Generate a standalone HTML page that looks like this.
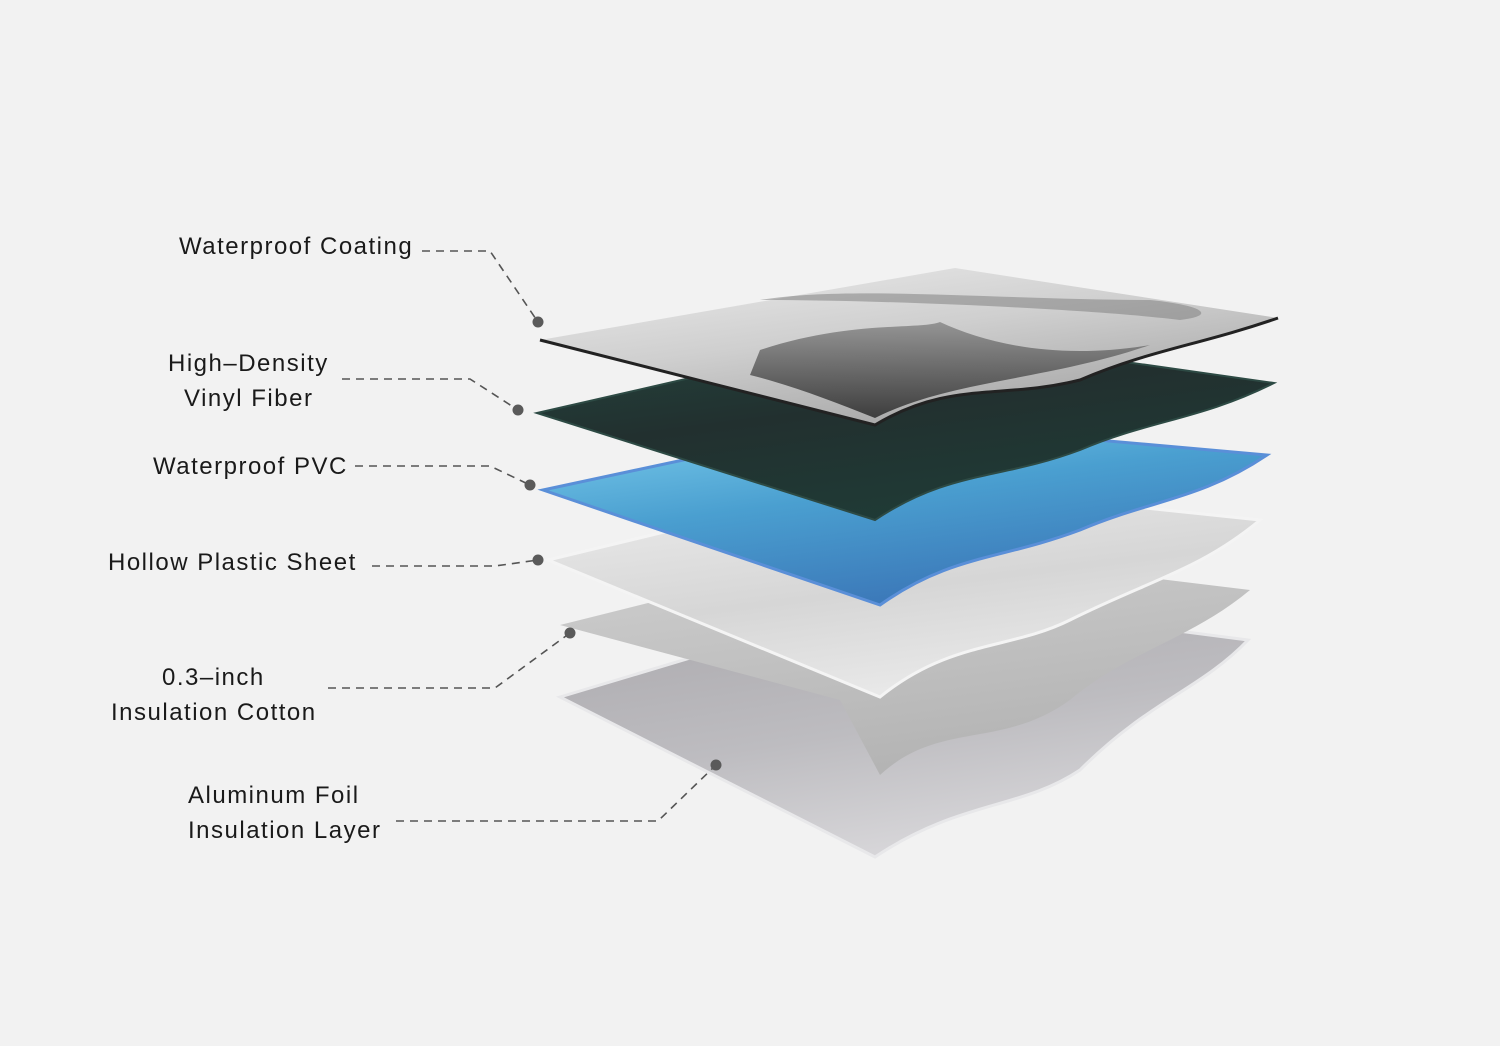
<!DOCTYPE html>
<html><head><meta charset="utf-8"><style>
html,body{margin:0;padding:0;background:#f2f2f2;}
svg{display:block}
text{font-family:"Liberation Sans",sans-serif;font-size:24px;letter-spacing:1.5px;fill:#1a1a1a;}
</style></head><body>
<svg width="1500" height="1046" viewBox="0 0 1500 1046" xmlns="http://www.w3.org/2000/svg">
<defs>
<linearGradient id="g1" x1="0" y1="0" x2="0.6" y2="1"><stop offset="0" stop-color="#ececec"/><stop offset="0.5" stop-color="#cfcfcf"/><stop offset="1" stop-color="#a5a5a5"/></linearGradient>
<linearGradient id="g1d" x1="0" y1="0" x2="0" y2="1"><stop offset="0" stop-color="#8a8a8a"/><stop offset="1" stop-color="#2a2a2a"/></linearGradient>
<linearGradient id="g2" x1="0" y1="0" x2="0.5" y2="1"><stop offset="0" stop-color="#24463f"/><stop offset="0.5" stop-color="#22302f"/><stop offset="1" stop-color="#1f3b36"/></linearGradient>
<linearGradient id="g3" x1="0" y1="0" x2="0.5" y2="1"><stop offset="0" stop-color="#7fd0ee"/><stop offset="0.5" stop-color="#4a9fd0"/><stop offset="1" stop-color="#3b77b8"/></linearGradient>
<linearGradient id="g4" x1="0" y1="0" x2="0.4" y2="1"><stop offset="0" stop-color="#eeeeee"/><stop offset="0.6" stop-color="#d6d6d6"/><stop offset="1" stop-color="#e8e8e8"/></linearGradient>
<linearGradient id="g5" x1="0" y1="0" x2="0.4" y2="1"><stop offset="0" stop-color="#d0d0d0"/><stop offset="1" stop-color="#b4b4b4"/></linearGradient>
<linearGradient id="g6" x1="0" y1="0" x2="0.4" y2="1"><stop offset="0" stop-color="#a9a7ab"/><stop offset="0.6" stop-color="#bdbcc0"/><stop offset="1" stop-color="#d6d5d8"/></linearGradient>
</defs>

<path d="M560,697 L900,595 L1248,640 C1200,690 1150,700 1080,770 C1020,810 960,800 875,857 Z" fill="url(#g6)" stroke="#e8e8ea" stroke-width="3"/>
<path d="M560,625 L880,545 L1250,590 C1190,640 1130,650 1070,700 C1000,750 940,720 880,775 L840,700 Z" fill="url(#g5)"/>
<path d="M548,560 L880,480 L1260,520 C1200,570 1150,580 1070,620 C1010,650 950,640 880,697 Z" fill="url(#g4)" stroke="#f4f4f4" stroke-width="3"/>
<path d="M543,490 L870,420 L1267,455 C1200,500 1150,500 1080,530 C1000,560 950,555 880,605 Z" fill="url(#g3)" stroke="#5a8fd8" stroke-width="3"/>
<path d="M537,413 L900,330 L1274,383 C1200,420 1150,420 1080,450 C1000,480 950,470 875,520 Z" fill="url(#g2)" stroke="#2d4a44" stroke-width="2"/>
<path d="M540,340 L955,268 L1278,318 C1200,345 1150,350 1080,380 C1000,400 950,380 875,425 Z" fill="url(#g1)"/>
<path d="M540,340 L875,425 C950,380 1000,400 1080,380 C1150,350 1200,345 1278,318" fill="none" stroke="#222" stroke-width="3"/>
<path d="M760,350 C850,320 920,330 940,322 C990,345 1060,360 1150,345 C1050,380 950,380 875,418 C830,400 790,385 750,375 Z" fill="url(#g1d)" opacity="0.85"/>
<path d="M760,300 C850,285 1000,300 1150,300 C1200,305 1220,315 1180,320 C1100,310 900,300 760,300 Z" fill="#7a7a7a" opacity="0.5"/>

<g fill="none" stroke="#555" stroke-width="1.6" stroke-dasharray="8,6">
<path d="M422,251 L490,251 L538,322"/>
<path d="M342,379 L470,379 L518,410"/>
<path d="M355,466 L490,466 L530,485"/>
<path d="M372,566 L495,566 L538,560"/>
<path d="M328,688 L495,688 L570,633"/>
<path d="M396,821 L658,821 L716,765"/>
</g>
<g fill="#5a5a5a">
<circle cx="538" cy="322" r="5.5"/><circle cx="518" cy="410" r="5.5"/><circle cx="530" cy="485" r="5.5"/>
<circle cx="538" cy="560" r="5.5"/><circle cx="570" cy="633" r="5.5"/><circle cx="716" cy="765" r="5.5"/>
</g>

<text x="179" y="254">Waterproof Coating</text>
<text x="168" y="371">High–Density</text>
<text x="184" y="406">Vinyl Fiber</text>
<text x="153" y="474">Waterproof PVC</text>
<text x="108" y="570">Hollow Plastic Sheet</text>
<text x="162" y="685">0.3–inch</text>
<text x="111" y="720">Insulation Cotton</text>
<text x="188" y="803">Aluminum Foil</text>
<text x="188" y="838">Insulation Layer</text>
</svg>
</body></html>
